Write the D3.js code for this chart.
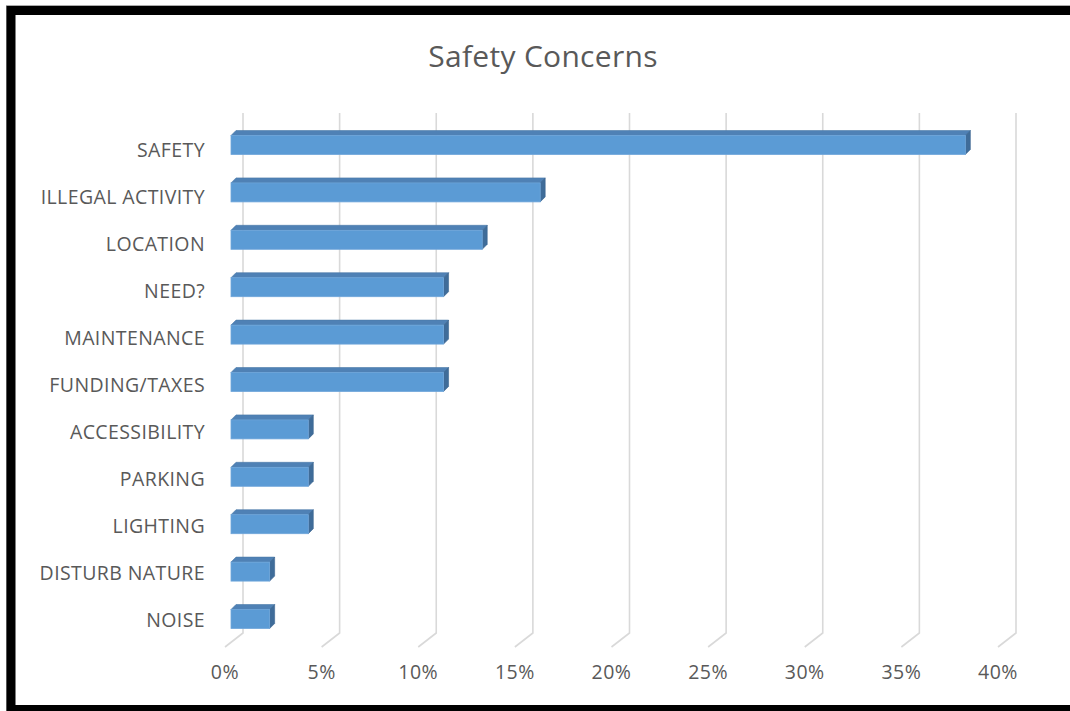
<!DOCTYPE html>
<html>
<head>
<meta charset="utf-8">
<script src="https://cdn.jsdelivr.net/npm/d3@7"></script>
<style>
  html, body { margin: 0; padding: 0; background: #fff; }
  svg { display: block; }
  text { font-family: "Open Sans", sans-serif; fill: #595959; }
</style>
</head>
<body>
<svg id="chart" width="1070" height="711"></svg>
<script>
const categories = ["SAFETY", "ILLEGAL ACTIVITY", "LOCATION", "NEED?", "MAINTENANCE",
  "FUNDING/TAXES", "ACCESSIBILITY", "PARKING", "LIGHTING", "DISTURB NATURE", "NOISE"];
const values = [38, 16, 13, 11, 11, 11, 4, 4, 4, 2, 2];
const tickValues = [0, 5, 10, 15, 20, 25, 30, 35, 40];
const tickLabels = ["0%", "5%", "10%", "15%", "20%", "25%", "30%", "35%", "40%"];
const title = "Safety Concerns";

const svg = d3.select("#chart");

// frame
svg.append("rect").attr("x", 6.5).attr("y", 5.5).attr("width", 1080).attr("height", 710)
  .attr("fill", "none").attr("stroke", "#aaa").attr("stroke-width", 1);
svg.append("rect").attr("x", 11).attr("y", 10.5).attr("width", 1080).attr("height", 699)
  .attr("fill", "#fff").attr("stroke", "#000").attr("stroke-width", 9);

// scales (floor front edge)
const x = d3.scaleLinear().domain([0, 40]).range([225, 998]);
const y = d3.scaleBand().domain(categories).range([121.3, 642.7]).padding(0);
const yLabel = d3.scaleBand().domain(categories).range([126.5, 643.5]).padding(0);
const backDx = 18, backDy = -14;      // back wall offset
const barDx = 6;                      // bar front face offset from floor front
const depth = 5;                      // bar depth
const barH = 19;
const gridTop = 113, floorFront = 647;

// gridlines on back wall + floor diagonals
const grid = svg.append("g");
tickValues.forEach(t => {
  const fx = x(t), bx = fx + backDx, by = floorFront + backDy;
  grid.append("path")
    .attr("d", `M${bx},${gridTop}L${bx},${by}L${fx},${floorFront}`)
    .attr("fill", "none").attr("stroke", "#D9D9D9").attr("stroke-width", 1.6);
});

// title
svg.append("text").attr("x", 543).attr("y", 67).attr("text-anchor", "middle")
  .attr("font-size", 30).attr("letter-spacing", "0.3px").text(title);

// category labels
svg.append("g").selectAll("text").data(categories).join("text")
  .attr("x", 205).attr("y", d => yLabel(d) + yLabel.bandwidth() / 2)
  .attr("dy", "0.36em").attr("text-anchor", "end").attr("font-size", 19.5)
  .attr("letter-spacing", "0.4px")
  .text(d => d);

// tick labels
svg.append("g").selectAll("text").data(tickValues).join("text")
  .attr("x", d => x(d)).attr("y", 679).attr("text-anchor", "middle").attr("font-size", 19.5)
  .attr("letter-spacing", "0.5px")
  .text((d, i) => tickLabels[i]);

// bars
const bars = svg.append("g").selectAll("g").data(categories).join("g");
bars.each(function (c, i) {
  const g = d3.select(this);
  const x0 = x(0) + barDx, x1 = x(values[i]) + barDx;
  const yc = y(c) + y.bandwidth() / 2;
  const yt = yc - barH / 2, yb = yc + barH / 2;
  // top face
  g.append("path")
    .attr("d", `M${x0},${yt}L${x0 + depth},${yt - depth}L${x1 + depth},${yt - depth}L${x1},${yt}Z`)
    .attr("fill", "#4F81B5").attr("stroke", "#4A78A8").attr("stroke-width", 0.6);
  // side face
  g.append("path")
    .attr("d", `M${x1},${yt}L${x1 + depth},${yt - depth}L${x1 + depth},${yb - depth}L${x1},${yb}Z`)
    .attr("fill", "#3F6C99").attr("stroke", "#3B6590").attr("stroke-width", 0.6);
  // front face
  g.append("rect").attr("x", x0).attr("y", yt).attr("width", x1 - x0).attr("height", barH)
    .attr("fill", "#5B9BD5").attr("stroke", "#6FA6DA").attr("stroke-width", 0.8);
});
</script>
</body>
</html>
